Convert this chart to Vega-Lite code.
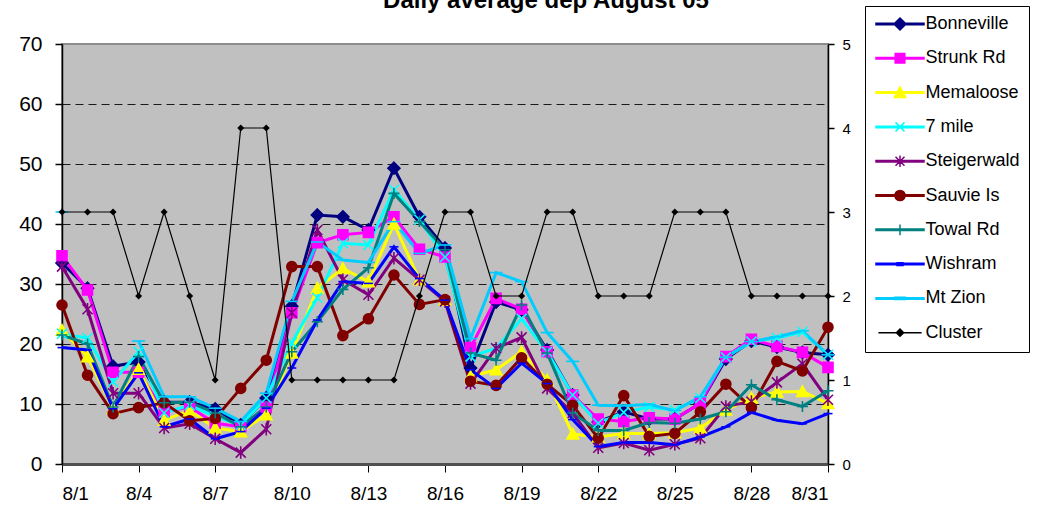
{
  "$schema": "https://vega.github.io/schema/vega-lite/v6.json",
  "autosize": {"type": "none"},
  "padding": {"left": 62, "top": 44, "right": 216, "bottom": 51},
  "width": 766,
  "height": 420,
  "config": {
    "font": "Liberation Sans",
    "view": {"fill": "#C0C0C0", "stroke": "#8c8c8c", "strokeWidth": 2}
  },
  "title": {
    "text": "Daily average dep August 05",
    "font": "Liberation Sans",
    "fontSize": 24,
    "fontWeight": "bold",
    "color": "black",
    "anchor": "middle",
    "frame": "group",
    "baseline": "alphabetic",
    "offset": 0,
    "dx": 101,
    "dy": 26.5
  },
  "data": {
    "values": [
      {"day": 1, "Bonneville": 33.5, "Strunk Rd": 34.7, "Memaloose": 22.3, "7 mile": 21.7, "Steigerwald": 32.9, "Sauvie Is": 26.5, "Towal Rd": 21.5, "Wishram": 19.4, "Mt Zion": 42, "Cluster": 3},
      {"day": 2, "Bonneville": 29.3, "Strunk Rd": 29.0, "Memaloose": 17.9, "7 mile": 21.0, "Steigerwald": 25.8, "Sauvie Is": 14.8, "Towal Rd": 20, "Wishram": 19.0, "Mt Zion": null, "Cluster": 3},
      {"day": 3, "Bonneville": 16.3, "Strunk Rd": 15.3, "Memaloose": 9.2, "7 mile": 13.7, "Steigerwald": 11.8, "Sauvie Is": 8.4, "Towal Rd": 9.5, "Wishram": 9.2, "Mt Zion": null, "Cluster": 3},
      {"day": 4, "Bonneville": 17.0, "Strunk Rd": 15.3, "Memaloose": 15.8, "7 mile": 18.7, "Steigerwald": 11.8, "Sauvie Is": 9.4, "Towal Rd": 17.9, "Wishram": 15.2, "Mt Zion": 20.5, "Cluster": 2},
      {"day": 5, "Bonneville": 10.3, "Strunk Rd": 8.7, "Memaloose": 7.3, "7 mile": 8.5, "Steigerwald": 6.0, "Sauvie Is": 10.2, "Towal Rd": 10.2, "Wishram": 6.2, "Mt Zion": 11.2, "Cluster": 3},
      {"day": 6, "Bonneville": 10.3, "Strunk Rd": 9.5, "Memaloose": 8.9, "7 mile": 9.8, "Steigerwald": 6.7, "Sauvie Is": 7.2, "Towal Rd": 10.3, "Wishram": 7.5, "Mt Zion": 11.2, "Cluster": 2},
      {"day": 7, "Bonneville": 9.2, "Strunk Rd": 6.8, "Memaloose": 6.0, "7 mile": 7.9, "Steigerwald": 4.2, "Sauvie Is": 7.6, "Towal Rd": 8.5, "Wishram": 4.2, "Mt Zion": 9.3, "Cluster": 1},
      {"day": 8, "Bonneville": 6.5, "Strunk Rd": 6.2, "Memaloose": 5.4, "7 mile": 6.5, "Steigerwald": 1.9, "Sauvie Is": 12.6, "Towal Rd": 6.2, "Wishram": 5.4, "Mt Zion": 7.1, "Cluster": 4},
      {"day": 9, "Bonneville": 11.0, "Strunk Rd": 9.5, "Memaloose": 8.2, "7 mile": 11.0, "Steigerwald": 5.8, "Sauvie Is": 17.3, "Towal Rd": 9.5, "Wishram": 9.3, "Mt Zion": 11.8, "Cluster": 4},
      {"day": 10, "Bonneville": 26.3, "Strunk Rd": 25.2, "Memaloose": 18.5, "7 mile": 20.2, "Steigerwald": 25.2, "Sauvie Is": 32.9, "Towal Rd": 18.7, "Wishram": 16.0, "Mt Zion": 27.1, "Cluster": 1},
      {"day": 11, "Bonneville": 41.5, "Strunk Rd": 36.9, "Memaloose": 29.3, "7 mile": 27.7, "Steigerwald": 39.0, "Sauvie Is": 32.9, "Towal Rd": 23.7, "Wishram": 24.0, "Mt Zion": 37.0, "Cluster": 1},
      {"day": 12, "Bonneville": 41.2, "Strunk Rd": 38.2, "Memaloose": 32.6, "7 mile": 36.8, "Steigerwald": 30.7, "Sauvie Is": 21.4, "Towal Rd": 29.1, "Wishram": 30.4, "Mt Zion": 34.0, "Cluster": 1},
      {"day": 13, "Bonneville": 39.0, "Strunk Rd": 38.6, "Memaloose": 30.4, "7 mile": 36.5, "Steigerwald": 28.2, "Sauvie Is": 24.2, "Towal Rd": 32.7, "Wishram": 30.1, "Mt Zion": 33.6, "Cluster": 1},
      {"day": 14, "Bonneville": 49.3, "Strunk Rd": 41.2, "Memaloose": 40.0, "7 mile": 45.7, "Steigerwald": 34.3, "Sauvie Is": 31.5, "Towal Rd": 45.1, "Wishram": 36.2, "Mt Zion": 40.4, "Cluster": 1},
      {"day": 15, "Bonneville": 41.2, "Strunk Rd": 35.8, "Memaloose": 30.7, "7 mile": 40.7, "Steigerwald": 30.7, "Sauvie Is": 26.6, "Towal Rd": 40.4, "Wishram": 30.9, "Mt Zion": 35.1, "Cluster": 2},
      {"day": 16, "Bonneville": 36.0, "Strunk Rd": 34.5, "Memaloose": 27.3, "7 mile": 34.5, "Steigerwald": 27.1, "Sauvie Is": 27.4, "Towal Rd": 35.7, "Wishram": 27.3, "Mt Zion": 36.5, "Cluster": 3},
      {"day": 17, "Bonneville": 16.0, "Strunk Rd": 19.4, "Memaloose": 14.6, "7 mile": 17.9, "Steigerwald": 13.4, "Sauvie Is": 13.8, "Towal Rd": 18.5, "Wishram": 15.7, "Mt Zion": 20.9, "Cluster": 3},
      {"day": 18, "Bonneville": 27.0, "Strunk Rd": 27.6, "Memaloose": 15.7, "7 mile": 19.3, "Steigerwald": 19.3, "Sauvie Is": 13.1, "Towal Rd": 17.3, "Wishram": 12.6, "Mt Zion": 31.9, "Cluster": 2},
      {"day": 19, "Bonneville": 25.7, "Strunk Rd": 25.8, "Memaloose": 18.7, "7 mile": 24.2, "Steigerwald": 21.1, "Sauvie Is": 17.7, "Towal Rd": 26.5, "Wishram": 16.8, "Mt Zion": 30.4, "Cluster": 2},
      {"day": 20, "Bonneville": 19.0, "Strunk Rd": 18.7, "Memaloose": 14.0, "7 mile": 18.7, "Steigerwald": 12.6, "Sauvie Is": 13.3, "Towal Rd": 18.5, "Wishram": 13.4, "Mt Zion": 21.9, "Cluster": 3},
      {"day": 21, "Bonneville": 11.5, "Strunk Rd": 11.5, "Memaloose": 5.0, "7 mile": 11.5, "Steigerwald": 8.5, "Sauvie Is": 9.8, "Towal Rd": 8.5, "Wishram": 7.4, "Mt Zion": 17.1, "Cluster": 3},
      {"day": 22, "Bonneville": 7.0, "Strunk Rd": 7.5, "Memaloose": 4.5, "7 mile": 6.8, "Steigerwald": 2.7, "Sauvie Is": 4.3, "Towal Rd": 5.6, "Wishram": 2.9, "Mt Zion": 9.8, "Cluster": 2},
      {"day": 23, "Bonneville": 8.7, "Strunk Rd": 7.1, "Memaloose": 5.1, "7 mile": 8.6, "Steigerwald": 3.5, "Sauvie Is": 11.4, "Towal Rd": 5.6, "Wishram": 3.6, "Mt Zion": 9.7, "Cluster": 2},
      {"day": 24, "Bonneville": 7.5, "Strunk Rd": 7.7, "Memaloose": 5.1, "7 mile": 9.5, "Steigerwald": 2.3, "Sauvie Is": 4.6, "Towal Rd": 6.9, "Wishram": 3.6, "Mt Zion": 9.9, "Cluster": 2},
      {"day": 25, "Bonneville": 7.5, "Strunk Rd": 7.5, "Memaloose": 5.2, "7 mile": 9.0, "Steigerwald": 3.3, "Sauvie Is": 5.1, "Towal Rd": 6.8, "Wishram": 3.2, "Mt Zion": 8.9, "Cluster": 3},
      {"day": 26, "Bonneville": 10.1, "Strunk Rd": 10.1, "Memaloose": 6.0, "7 mile": 11.0, "Steigerwald": 4.3, "Sauvie Is": 8.7, "Towal Rd": 7.5, "Wishram": 4.5, "Mt Zion": 11.2, "Cluster": 3},
      {"day": 27, "Bonneville": 17.5, "Strunk Rd": 17.9, "Memaloose": 9.0, "7 mile": 17.8, "Steigerwald": 9.6, "Sauvie Is": 13.3, "Towal Rd": 8.7, "Wishram": 6.2, "Mt Zion": 17.8, "Cluster": 3},
      {"day": 28, "Bonneville": 20.5, "Strunk Rd": 20.8, "Memaloose": 11.0, "7 mile": 20.4, "Steigerwald": 10.4, "Sauvie Is": 9.4, "Towal Rd": 13.2, "Wishram": 8.6, "Mt Zion": 20.4, "Cluster": 2},
      {"day": 29, "Bonneville": 19.5, "Strunk Rd": 19.6, "Memaloose": 12.0, "7 mile": 21.0, "Steigerwald": 13.6, "Sauvie Is": 17.1, "Towal Rd": 10.7, "Wishram": 7.3, "Mt Zion": 21.2, "Cluster": 2},
      {"day": 30, "Bonneville": 18.6, "Strunk Rd": 18.6, "Memaloose": 12.1, "7 mile": 22.0, "Steigerwald": 16.7, "Sauvie Is": 15.5, "Towal Rd": 9.6, "Wishram": 6.7, "Mt Zion": 22.2, "Cluster": 2},
      {"day": 31, "Bonneville": 18.2, "Strunk Rd": 16.1, "Memaloose": 10.1, "7 mile": 18.2, "Steigerwald": 10.7, "Sauvie Is": 22.8, "Towal Rd": 12.2, "Wishram": 8.4, "Mt Zion": 18.2, "Cluster": 2}
    ]
  },
  "encoding": {
    "x": {
      "field": "day",
      "type": "quantitative",
      "scale": {"domain": [1, 31], "nice": false, "zero": false},
      "axis": {
        "title": null,
        "values": [1, 4, 7, 10, 13, 16, 19, 22, 25, 28, 31],
        "labelExpr": "'8/' + datum.value",
        "grid": false,
        "domainColor": "#505050",
        "domainWidth": 3,
        "tickColor": "black",
        "tickSize": 8,
        "tickWidth": 1,
        "labelFontSize": 19,
        "labelColor": "black",
        "labelPadding": 12,
        "labelFont": "Liberation Sans"
      }
    }
  },
  "layer": [
    {
      "transform": [
        {"fold": ["Bonneville", "Strunk Rd", "Memaloose", "7 mile", "Steigerwald", "Sauvie Is", "Towal Rd", "Wishram", "Mt Zion"], "as": ["series", "value"]}
      ],
      "encoding": {
        "y": {
          "field": "value",
          "type": "quantitative",
          "scale": {"domain": [0, 70], "nice": false},
          "axis": {
            "orient": "left",
            "title": null,
            "values": [0, 10, 20, 30, 40, 50, 60, 70],
            "grid": true,
            "gridColor": "#1a1a1a",
            "gridDash": [8, 5],
            "gridWidth": 1,
            "gridOpacity": {"condition": {"test": "datum.value === 0 || datum.value === 70", "value": 0}, "value": 1},
            "domainColor": "black",
            "domainWidth": 1.5,
            "tickColor": "black",
            "tickSize": 7,
            "tickWidth": 1.5,
            "labelFontSize": 21,
            "labelColor": "black",
            "labelPadding": 13,
            "labelFont": "Liberation Sans"
          }
        }
      },
      "layer": [
        {
          "mark": {"type": "line", "strokeWidth": 3, "invalid": "break-paths-filter-domains"},
          "encoding": {
            "stroke": {
              "field": "series",
              "type": "nominal",
              "scale": {
                "domain": ["Bonneville", "Strunk Rd", "Memaloose", "7 mile", "Steigerwald", "Sauvie Is", "Towal Rd", "Wishram", "Mt Zion", "Cluster"],
                "range": ["#000080", "#FF00FF", "#FFFF00", "#00FFFF", "#800080", "#800000", "#008080", "#0000FF", "#00CCFF", "#000000"]
              },
              "legend": null
            }
          }
        },
        {
          "mark": {"type": "point", "filled": true, "size": 100, "strokeWidth": 1.6, "opacity": 1},
          "encoding": {
            "fill": {
              "field": "series",
              "type": "nominal",
              "scale": {
                "domain": ["Bonneville", "Strunk Rd", "Memaloose", "7 mile", "Steigerwald", "Sauvie Is", "Towal Rd", "Wishram", "Mt Zion", "Cluster"],
                "range": ["#000080", "#FF00FF", "#FFFF00", "#00FFFF", "#800080", "#800000", "#008080", "#0000FF", "#00CCFF", "#000000"]
              },
              "legend": null
            },
            "stroke": {"field": "series", "type": "nominal", "legend": null},
            "shape": {
              "field": "series",
              "type": "nominal",
              "scale": {
                "domain": ["Bonneville", "Strunk Rd", "Memaloose", "7 mile", "Steigerwald", "Sauvie Is", "Towal Rd", "Wishram", "Mt Zion", "Cluster"],
                "range": [
                  "M0,-1.2L1.2,0L0,1.2L-1.2,0Z",
                  "M-1,-1H1V1H-1Z",
                  "M0,-1.1L1.15,1H-1.15Z",
                  "M-1,-1L1,1M-1,1L1,-1",
                  "M-1,-1L1,1M-1,1L1,-1M0,-1.25V1.25",
                  "M-1,0A1,1,0,1,1,1,0A1,1,0,1,1,-1,0Z",
                  "M-1.1,0H1.1M0,-1.1V1.1",
                  "M-0.9,0H0.9",
                  "M-1.3,0H1.3",
                  "M0,-0.7L0.7,0L0,0.7L-0.7,0Z"
                ]
              },
              "legend": null
            }
          }
        }
      ]
    },
    {
      "transform": [
        {"fold": ["Cluster"], "as": ["series", "value"]}
      ],
      "encoding": {
        "y": {
          "field": "value",
          "type": "quantitative",
          "scale": {"domain": [0, 5], "nice": false},
          "axis": {
            "orient": "right",
            "title": null,
            "values": [0, 1, 2, 3, 4, 5],
            "grid": false,
            "domainColor": "black",
            "domainWidth": 1.5,
            "tickColor": "black",
            "tickSize": 6,
            "tickWidth": 1.5,
            "labelFontSize": 15,
            "labelColor": "black",
            "labelPadding": 8,
            "labelFont": "Liberation Sans"
          }
        }
      },
      "layer": [
        {
          "mark": {"type": "line", "strokeWidth": 1.2, "color": "#000000"},
          "encoding": {
            "detail": {"field": "series", "type": "nominal"}
          }
        },
        {
          "mark": {"type": "point", "filled": true, "size": 100, "strokeWidth": 1, "opacity": 1, "color": "#000000", "shape": "M0,-0.7L0.7,0L0,0.7L-0.7,0Z"},
          "encoding": {
            "detail": {"field": "series", "type": "nominal"}
          }
        }
      ]
    },
    {
      "transform": [
        {"fold": ["Bonneville", "Strunk Rd", "Memaloose", "7 mile", "Steigerwald", "Sauvie Is", "Towal Rd", "Wishram", "Mt Zion", "Cluster"], "as": ["series", "value"]},
        {"filter": "datum.day > 99"}
      ],
      "mark": {"type": "point", "filled": true, "size": 144, "strokeWidth": 1.5, "opacity": 1},
      "encoding": {
        "fill": {
          "field": "series",
          "type": "nominal",
          "scale": {
            "domain": ["Bonneville", "Strunk Rd", "Memaloose", "7 mile", "Steigerwald", "Sauvie Is", "Towal Rd", "Wishram", "Mt Zion", "Cluster"],
            "range": ["#000080", "#FF00FF", "#FFFF00", "#00FFFF", "#800080", "#800000", "#008080", "#0000FF", "#00CCFF", "#000000"]
          },
          "legend": {
            "title": null,
            "orient": "none",
            "legendX": 803,
            "legendY": -38,
            "direction": "vertical",
            "fillColor": "white",
            "strokeColor": "black",
            "padding": 9,
            "labelFont": "Liberation Sans",
            "labelFontSize": 18,
            "labelColor": "black",
            "rowPadding": 12.3,
            "symbolSize": 144,
            "symbolOffset": 17,
            "labelOffset": 16.5,
            "symbolStrokeWidth": 1.5
          }
        },
        "stroke": {
          "field": "series",
          "type": "nominal",
          "scale": {
            "domain": ["Bonneville", "Strunk Rd", "Memaloose", "7 mile", "Steigerwald", "Sauvie Is", "Towal Rd", "Wishram", "Mt Zion", "Cluster"],
            "range": ["#000080", "#FF00FF", "#FFFF00", "#00FFFF", "#800080", "#800000", "#008080", "#0000FF", "#00CCFF", "#000000"]
          }
        },
        "shape": {
          "field": "series",
          "type": "nominal",
          "scale": {
            "domain": ["Bonneville", "Strunk Rd", "Memaloose", "7 mile", "Steigerwald", "Sauvie Is", "Towal Rd", "Wishram", "Mt Zion", "Cluster"],
            "range": [
              "M-4,-0.125H4V0.125H-4ZM0,-1L1,0L0,1L-1,0ZM0,-1.2M0,1.2",
              "M-4,-0.125H4V0.125H-4ZM-0.8,-0.8H0.8V0.8H-0.8ZM0,-1.2M0,1.2",
              "M-4,-0.125H4V0.125H-4ZM0,-0.95L0.95,0.8H-0.95ZM0,-1.2M0,1.2",
              "M-4,-0.125H4V0.125H-4ZM-0.75,-0.75L0.75,0.75M-0.75,0.75L0.75,-0.75M0,-1.2M0,1.2",
              "M-4,-0.125H4V0.125H-4ZM-0.75,-0.75L0.75,0.75M-0.75,0.75L0.75,-0.75M0,-0.95V0.95M0,-1.2M0,1.2",
              "M-4,-0.125H4V0.125H-4ZM-0.85,0A0.85,0.85,0,1,1,0.85,0A0.85,0.85,0,1,1,-0.85,0ZM0,-1.2M0,1.2",
              "M-4,-0.125H4V0.125H-4ZM0,-0.9V0.9M0,-1.2M0,1.2",
              "M-4,-0.125H4V0.125H-4ZM-0.5,-0.22H0.5V0.22H-0.5ZM0,-1.2M0,1.2",
              "M-4,-0.125H4V0.125H-4ZM-0.9,-0.2H0.9V0.2H-0.9ZM0,-1.2M0,1.2",
              "M-3.6,0H3.6M0,-0.6L0.6,0L0,0.6L-0.6,0ZM0,-1.2M0,1.2"
            ]
          }
        }
      }
    }
  ],
  "resolve": {"scale": {"y": "independent", "fill": "independent", "stroke": "independent", "shape": "independent"}}
}
